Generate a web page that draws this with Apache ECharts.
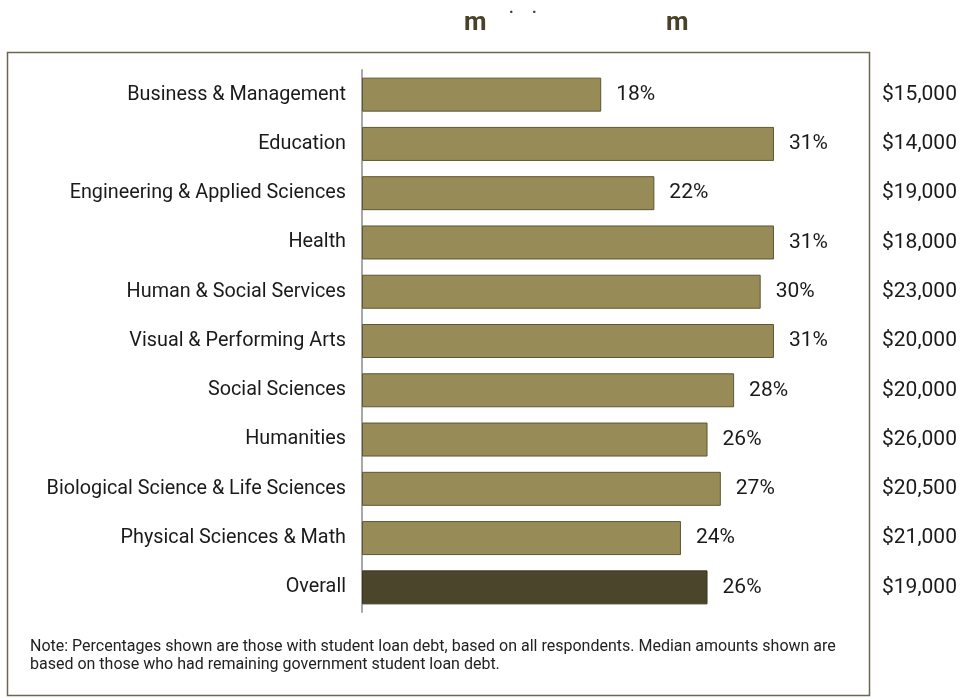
<!DOCTYPE html>
<html>
<head>
<meta charset="utf-8">
<script src="https://cdn.jsdelivr.net/npm/echarts@6/dist/echarts.min.js"></script>
<style>
  html, body { margin: 0; padding: 0; background: #ffffff; }
  #chart { width: 967px; height: 698px; }
</style>
</head>
<body>
<div id="chart"></div>
<script>
// Fields of study, top to bottom
const fields = [
  'Business & Management',
  'Education',
  'Engineering & Applied Sciences',
  'Health',
  'Human & Social Services',
  'Visual & Performing Arts',
  'Social Sciences',
  'Humanities',
  'Biological Science & Life Sciences',
  'Physical Sciences & Math',
  'Overall'
];

// Share of respondents with student loan debt (%)
const debtShare = [18, 31, 22, 31, 30, 31, 28, 26, 27, 24, 26];

// Median remaining government student loan debt
const medianDebt = ['$15,000', '$14,000', '$19,000', '$18,000', '$23,000', '$20,000',
  '$20,000', '$26,000', '$20,500', '$21,000', '$19,000'];

const noteLines = [
  'Note: Percentages shown are those with student loan debt, based on all respondents. Median amounts shown are',
  'based on those who had remaining government student loan debt.'
];

const FONT = 'Roboto';
const barColor = '#978c57';
const overallColor = '#4b462b';
const titleColor = '#4a4228';

const chart = echarts.init(document.getElementById('chart'), null, { renderer: 'canvas' });

chart.setOption({
  animation: false,
  backgroundColor: '#ffffff',
  grid: { left: 362, top: 70, width: 505, height: 542, containLabel: false },
  xAxis: {
    type: 'value', min: 0, max: 38,
    show: false
  },
  yAxis: [
    {
      type: 'category', data: fields, inverse: true,
      axisLine: { show: true, lineStyle: { color: '#a8a8a8', width: 2 } },
      axisTick: { show: false },
      axisLabel: { margin: 16, fontFamily: FONT, fontSize: 19.8, color: '#1a1a1a' }
    },
    {
      type: 'category', data: medianDebt, inverse: true, position: 'right',
      axisLine: { show: false }, axisTick: { show: false },
      axisLabel: { margin: 15, fontFamily: FONT, fontSize: 21, color: '#1a1a1a', align: 'left' }
    }
  ],
  series: [{
    type: 'bar',
    yAxisIndex: 0,
    barWidth: 34,
    data: debtShare.map((v, i) => ({
      value: v,
      itemStyle: i === fields.length - 1
        ? { color: overallColor, borderColor: '#3a3620', borderWidth: 1 }
        : { color: barColor, borderColor: '#5c5633', borderWidth: 1 }
    })),
    label: {
      show: true, position: 'right', distance: 15,
      formatter: p => p.value + '%',
      fontFamily: FONT, fontSize: 21, color: '#1a1a1a'
    }
  }],
  graphic: [
    {
      type: 'rect', silent: true, z: -1,
      shape: { x: 7.5, y: 52.5, width: 862, height: 643 },
      style: { fill: 'none', stroke: '#6b6650', lineWidth: 1.5 }
    },
    // Title glyphs
    { type: 'text', left: 464, top: 10, style: { text: 'm', font: 'bold 26px ' + FONT, fill: titleColor } },
    { type: 'text', left: 509, top: 1, style: { text: '.', font: 'bold 16px ' + FONT, fill: titleColor } },
    { type: 'text', left: 532, top: 1, style: { text: '.', font: 'bold 16px ' + FONT, fill: titleColor } },
    { type: 'text', left: 666, top: 10, style: { text: 'm', font: 'bold 26px ' + FONT, fill: titleColor } },
    // Footnote
    {
      type: 'text', left: 30, top: 638,
      style: { text: noteLines.join('\n'), font: '16px ' + FONT, lineHeight: 18, fill: '#222222' }
    }
  ]
});
</script>
</body>
</html>
